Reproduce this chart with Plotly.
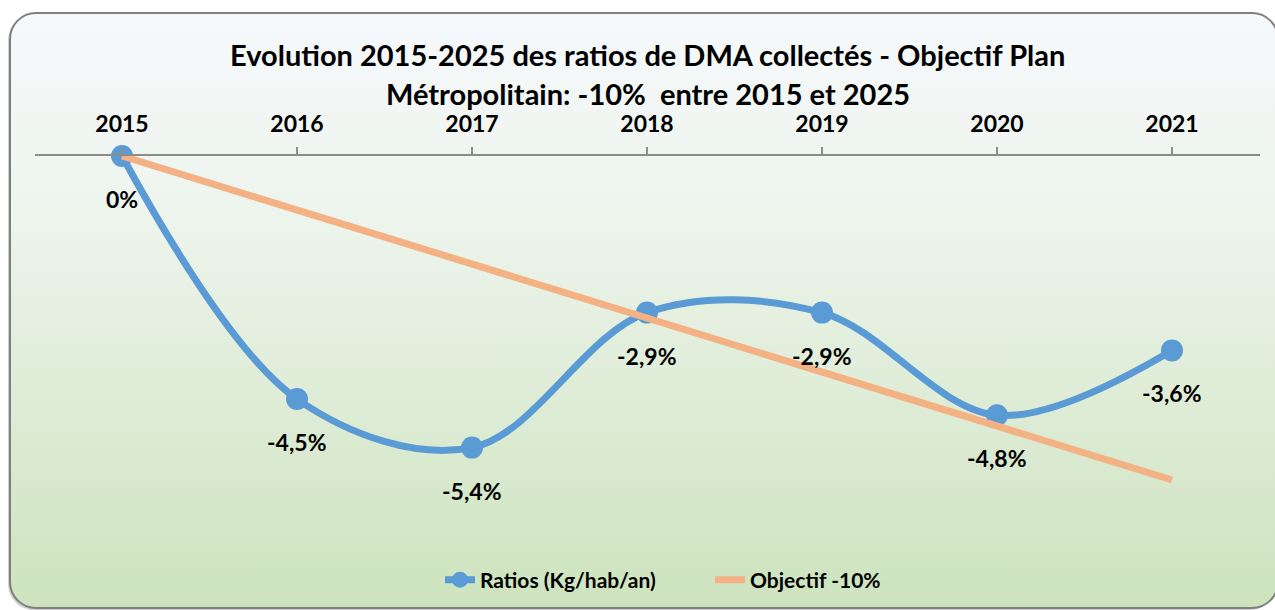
import base64
import plotly.graph_objects as go

years = ["2015", "2016", "2017", "2018", "2019", "2020", "2021"]
ratios = [0.0, -4.5, -5.4, -2.9, -2.9, -4.8, -3.6]
objectif = [0.0, -1.0, -2.0, -3.0, -4.0, -5.0, -6.0]
title_lines = ["Evolution 2015-2025 des ratios de DMA collectés - Objectif Plan",
               "Métropolitain: -10%  entre 2015 et 2025"]

W, H = 1275, 610
FONT = "Lato"

def fmt(v):
    if v == 0:
        return "0%"
    return f"{v:.1f}".replace(".", ",") + "%"

svg = f'''<svg xmlns="http://www.w3.org/2000/svg" width="{W}" height="{H}" viewBox="0 0 {W} {H}">
<defs><linearGradient id="g" x1="0" y1="0" x2="0" y2="1">
<stop offset="0" stop-color="#f6f9fc"/><stop offset="0.35" stop-color="#edf4ec"/>
<stop offset="1" stop-color="#cde3bd"/></linearGradient></defs>
<rect x="8" y="15" width="1268" height="595" rx="26" ry="26" fill="#d0d0d0"/>
<rect x="10" y="13" width="1268" height="595" rx="26" ry="26" fill="url(#g)" stroke="#7f7f7f" stroke-width="2"/>
</svg>'''
src = "data:image/svg+xml;base64," + base64.b64encode(svg.encode()).decode()

x = list(range(len(years)))

fig = go.Figure()
fig.add_trace(go.Scatter(
    x=x, y=ratios, mode="lines+markers", name="Ratios (Kg/hab/an)",
    line=dict(color="#5b9bd5", width=7, shape="spline", smoothing=1),
    marker=dict(size=22, color="#5b9bd5"), cliponaxis=False, legend="legend"))
fig.add_trace(go.Scatter(
    x=x, y=objectif, mode="lines", name="Objectif -10%",
    line=dict(color="#f4b183", width=7), cliponaxis=False, legend="legend2"))

annotations = []
for xi, v in zip(x, ratios):
    annotations.append(dict(x=xi, y=v, xref="x", yref="y", text=fmt(v), showarrow=False,
                            yshift=-43, font=dict(family=FONT, size=23, color="black", weight="bold")))
for i, (t, yc) in enumerate(zip(title_lines, [55, 93])):
    annotations.append(dict(x=648 / W, y=(H - yc) / H, xref="paper", yref="paper",
                            text=f"<b>{t}</b>", showarrow=False, xanchor="center", yanchor="middle",
                            font=dict(family=FONT, size=29, color="black")))

y_top_px, y_bot_px = 156, 540
ppu = 54.0
legend_font = dict(family=FONT, size=21, color="black", weight="bold")
fig.update_layout(
    width=W, height=H, margin=dict(l=0, r=0, t=0, b=0),
    paper_bgcolor="rgba(0,0,0,0)", plot_bgcolor="rgba(0,0,0,0)",
    images=[dict(source=src, xref="paper", yref="paper", x=0, y=1, sizex=1, sizey=1,
                 xanchor="left", yanchor="top", sizing="stretch", layer="below")],
    xaxis=dict(domain=[34.5 / W, 1259.5 / W], range=[-0.5, 6.5], side="top",
               tickmode="array", tickvals=x, ticktext=years, showgrid=False, zeroline=False,
               showline=True, linecolor="#8c8c8c", linewidth=1.5,
               ticks="outside", tickson="boundaries", ticklen=7, tickcolor="#8c8c8c", tickwidth=1.5,
               tickfont=dict(family=FONT, size=23, color="black", weight="bold"),
               ticklabelstandoff=6),
    yaxis=dict(domain=[(H - y_bot_px) / H, (H - y_top_px) / H],
               range=[-(y_bot_px - y_top_px) / ppu, 0], visible=False, showgrid=False, zeroline=False),
    legend=dict(orientation="h", x=(482 - 42) / W, xanchor="left", y=(H - 580) / H, yanchor="middle",
                bgcolor="rgba(0,0,0,0)", font=legend_font),
    legend2=dict(orientation="h", x=(753 - 43) / W, xanchor="left", y=(H - 580) / H, yanchor="middle",
                 bgcolor="rgba(0,0,0,0)", font=legend_font),
    annotations=annotations, showlegend=True,
)
fig.write_html("out.html", config={"displayModeBar": False},
               post_script="document.body.style.margin='0';document.body.style.overflow='hidden';")
